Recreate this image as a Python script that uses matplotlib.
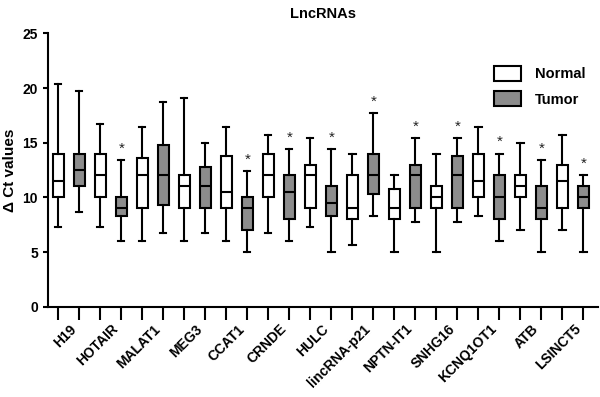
import numpy as np
import matplotlib
matplotlib.use("Agg")
import matplotlib.pyplot as plt
import matplotlib.transforms as mtransforms
from matplotlib.patches import Patch

plt.rcParams['font.family'] = ['Liberation Sans', 'DejaVu Sans']
plt.rcParams['font.weight'] = 'bold'

genes = ["H19", "HOTAIR", "MALAT1", "MEG3", "CCAT1", "CRNDE", "HULC",
         "lincRNA-p21", "NPTN-IT1", "SNHG16", "KCNQ1OT1", "ATB", "LSINCT5"]

# box stats: whisker low, q1, median, q3, whisker high
normal_lo  = [7.3, 7.3, 6.0, 6.0, 6.0, 6.7, 7.3, 5.6, 5.0, 5.0, 8.3, 7.0, 7.0]
normal_q1  = [10.0, 10.0, 9.0, 9.0, 9.0, 10.0, 9.0, 8.0, 8.0, 9.0, 10.0, 10.0, 9.0]
normal_med = [11.5, 12.0, 12.0, 11.0, 10.5, 12.0, 12.0, 9.0, 9.0, 10.0, 11.5, 11.0, 11.5]
normal_q3  = [14.0, 14.0, 13.6, 12.0, 13.8, 14.0, 13.0, 12.0, 10.8, 11.0, 14.0, 12.0, 13.0]
normal_hi  = [20.4, 16.7, 16.4, 19.1, 16.4, 15.7, 15.4, 14.0, 12.0, 14.0, 16.4, 15.0, 15.7]

tumor_lo  = [8.7, 6.0, 6.7, 6.7, 5.0, 6.0, 5.0, 8.3, 7.7, 7.7, 6.0, 5.0, 5.0]
tumor_q1  = [11.0, 8.25, 9.3, 9.0, 7.0, 8.0, 8.25, 10.3, 9.0, 9.0, 8.0, 8.0, 9.0]
tumor_med = [12.5, 9.0, 12.0, 11.0, 9.0, 10.5, 9.5, 12.0, 12.0, 12.0, 10.0, 9.0, 10.0]
tumor_q3  = [14.0, 10.0, 14.8, 12.8, 10.0, 12.0, 11.0, 14.0, 13.0, 13.8, 12.0, 11.0, 11.0]
tumor_hi  = [19.7, 13.4, 18.7, 15.0, 12.4, 14.4, 14.4, 17.7, 15.4, 15.4, 14.0, 13.4, 12.0]

significant = [False, True, False, False, True, True, True, True, True, True, True, True, True]


def stats(lo, q1, med, q3, hi):
    return [dict(whislo=a, q1=b, med=c, q3=d, whishi=e, fliers=[])
            for a, b, c, d, e in zip(lo, q1, med, q3, hi)]


fig = plt.figure(figsize=(6, 3.97), dpi=100)
ax = fig.add_axes([0.0795, 0.2275, 0.9175, 0.6885])

n = len(genes)
pos_n = np.arange(n) * 2
pos_t = pos_n + 1
lw = 1.5
common = dict(widths=0.52, capwidths=0.3, patch_artist=True, showfliers=False,
              medianprops=dict(color='black', linewidth=lw),
              whiskerprops=dict(color='black', linewidth=lw),
              capprops=dict(color='black', linewidth=lw))

ax.bxp(stats(normal_lo, normal_q1, normal_med, normal_q3, normal_hi), positions=pos_n,
       boxprops=dict(facecolor='white', edgecolor='black', linewidth=lw), **common)
ax.bxp(stats(tumor_lo, tumor_q1, tumor_med, tumor_q3, tumor_hi), positions=pos_t,
       boxprops=dict(facecolor='#8c8c8c', edgecolor='black', linewidth=lw), **common)

for p, hi, sig in zip(pos_t, tumor_hi, significant):
    if sig:
        ax.text(p, hi + 0.4, "*", ha='center', va='bottom', fontsize=11,
                fontweight='normal', color='#222222')

ax.set_xlim(-0.5, 2 * n - 0.3)
ax.set_ylim(0, 25)
ax.set_yticks([0, 5, 10, 15, 20, 25])
ax.set_xticks(np.arange(2 * n))
labels = []
for g in genes:
    labels += ["", g]
ax.set_xticklabels(labels, rotation=45, ha='right', fontsize=10, fontweight='bold')
shift = mtransforms.ScaledTranslation(5 / 100, 0, fig.dpi_scale_trans)
for lab in ax.get_xticklabels():
    lab.set_transform(lab.get_transform() + shift)
ax.tick_params(axis='x', length=9, width=1.5, pad=2)
ax.tick_params(axis='y', length=3.5, width=1.5, labelsize=10)
for s in ['top', 'right']:
    ax.spines[s].set_visible(False)
for s in ['left', 'bottom']:
    ax.spines[s].set_linewidth(1.5)

ax.set_ylabel("\u0394 Ct values", fontsize=11, fontweight='bold', labelpad=4)
ax.set_title("LncRNAs", fontsize=10.5, fontweight='bold', pad=11)

handles = [Patch(facecolor='white', edgecolor='black', linewidth=lw, label='Normal'),
           Patch(facecolor='#8c8c8c', edgecolor='black', linewidth=lw, label='Tumor')]
ax.legend(handles=handles, loc='upper right', bbox_to_anchor=(1.0, 0.93), frameon=False,
          prop=dict(size=10.5, weight='bold'), handlelength=1.9, handleheight=1.2,
          labelspacing=0.7, handletextpad=0.9)

fig.savefig("out.png", dpi=100)
